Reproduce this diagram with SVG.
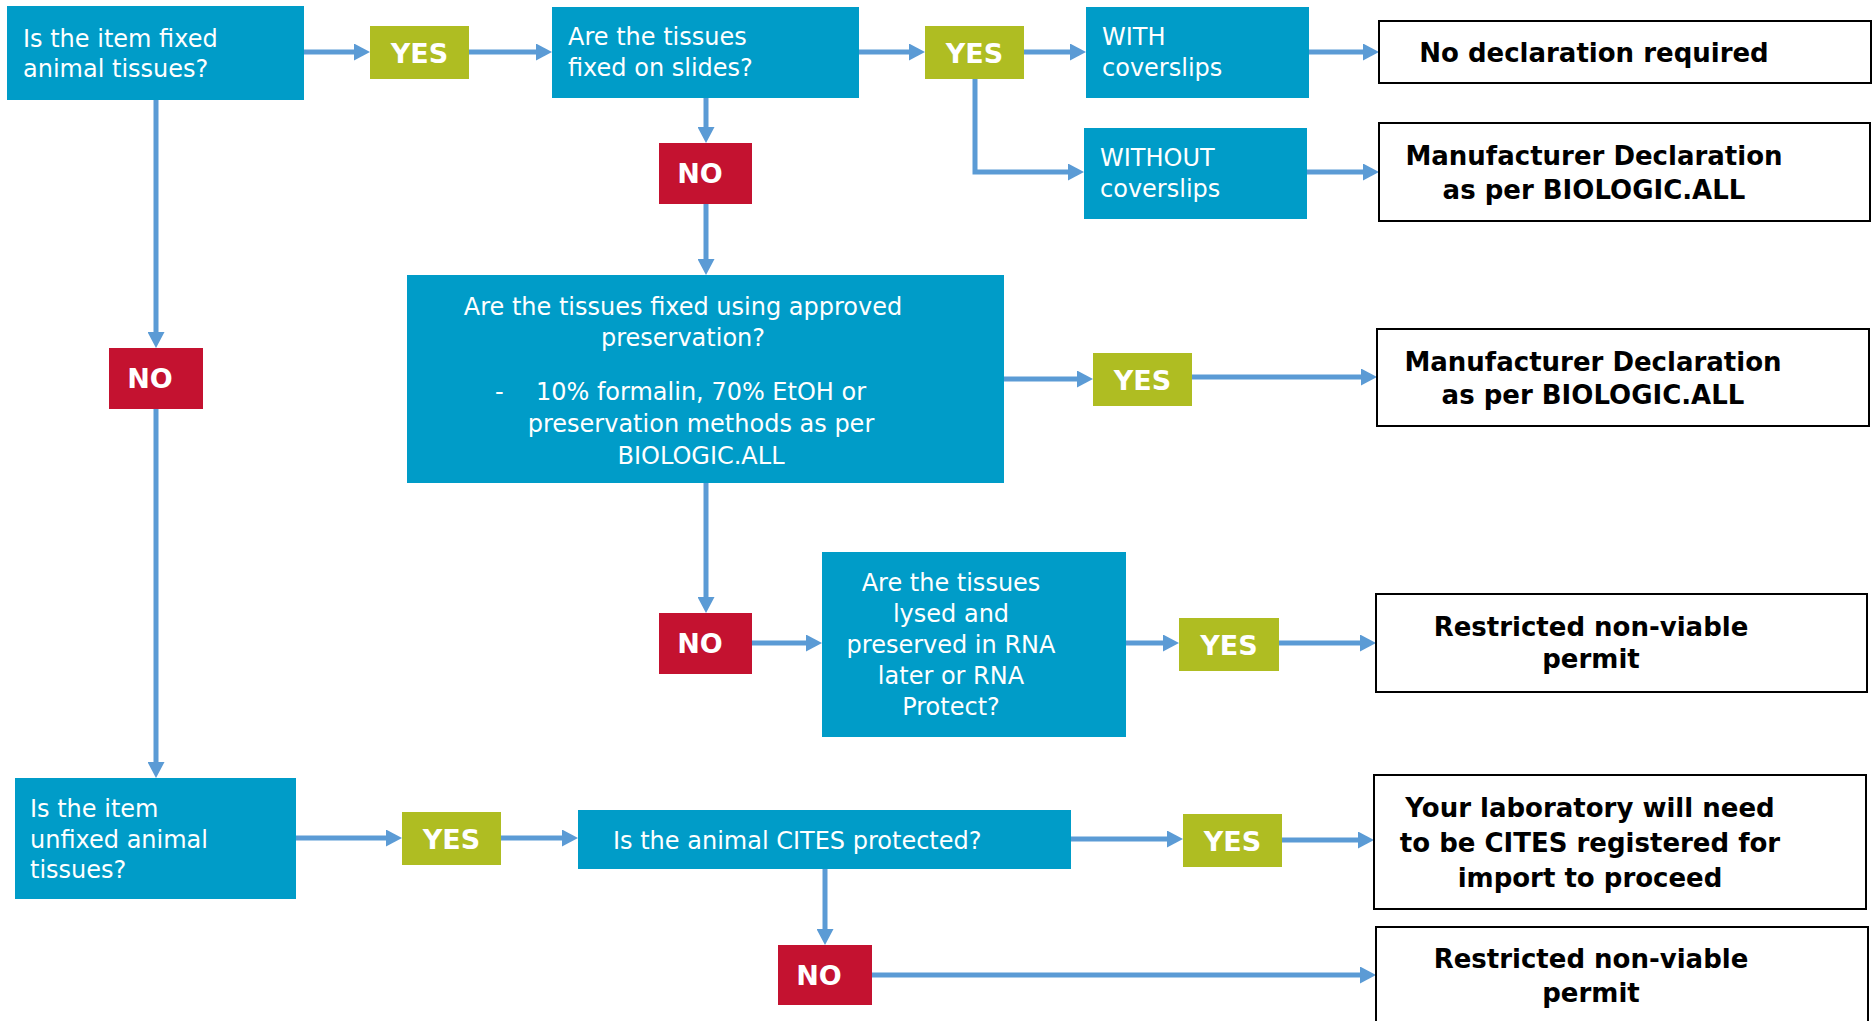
<svg xmlns="http://www.w3.org/2000/svg" width="1874" height="1021" viewBox="0 0 1874 1021">
<defs>
<marker id="ah" markerUnits="userSpaceOnUse" viewBox="0 0 16 17" refX="8" refY="8.5" markerWidth="16" markerHeight="17" orient="auto"><path d="M0,0 L16,8.5 L0,17 Z" fill="#5B9BD5"/></marker>
<style>
.q{fill:#009CC8}
.y{fill:#AFBD22}
.n{fill:#C41230}
.r{fill:#fff;stroke:#000;stroke-width:2}
.t{font-family:"DejaVu Sans",Verdana,sans-serif;font-size:24px;fill:#fff}
.c{text-anchor:middle}
.b{font-family:"DejaVu Sans",Verdana,sans-serif;font-size:27px;font-weight:bold;fill:#fff;text-anchor:middle}
.k{font-family:"DejaVu Sans",Verdana,sans-serif;font-size:26px;font-weight:bold;fill:#000;text-anchor:middle}
.e{fill:none;stroke:#5B9BD5;stroke-width:5;marker-end:url(#ah)}
</style>
</defs>
<rect width="1874" height="1021" fill="#fff"/>
<g id="connectors">
<path class="e" d="M304,52 H362"/>
<path class="e" d="M469,52 H544"/>
<path class="e" d="M859,52 H917"/>
<path class="e" d="M1024,52 H1078"/>
<path class="e" d="M1309,52 H1371"/>
<path class="e" d="M975,79 V172 H1076"/>
<path class="e" d="M1307,172 H1371"/>
<path class="e" d="M706,98 V135"/>
<path class="e" d="M706,204 V267"/>
<path class="e" d="M1004,379 H1085"/>
<path class="e" d="M1192,377 H1369"/>
<path class="e" d="M706,483 V605"/>
<path class="e" d="M752,643 H814"/>
<path class="e" d="M1126,643 H1171"/>
<path class="e" d="M1279,643 H1368"/>
<path class="e" d="M156,100 V340"/>
<path class="e" d="M156,409 V770"/>
<path class="e" d="M296,838 H394"/>
<path class="e" d="M501,838 H570"/>
<path class="e" d="M1071,839 H1175"/>
<path class="e" d="M1282,840 H1366"/>
<path class="e" d="M825,869 V937"/>
<path class="e" d="M872,975 H1368"/>
</g>
<g id="q-fixed"><rect class="q" x="7" y="6" width="297" height="94"/><text class="t" x="23" y="47">Is the item fixed</text><text class="t" x="23" y="77">animal tissues?</text></g>
<g id="yes1"><rect class="y" x="370" y="26" width="99" height="53"/><text class="b" x="419.5" y="62.5">YES</text></g>
<g id="q-slides"><rect class="q" x="552" y="7" width="307" height="91"/><text class="t" x="568" y="45">Are the tissues</text><text class="t" x="568" y="76">fixed on slides?</text></g>
<g id="yes2"><rect class="y" x="925" y="26" width="99" height="53"/><text class="b" x="974.5" y="62.5">YES</text></g>
<g id="with"><rect class="q" x="1086" y="7" width="223" height="91"/><text class="t" x="1102" y="45">WITH</text><text class="t" x="1102" y="76">coverslips</text></g>
<g id="without"><rect class="q" x="1084" y="128" width="223" height="91"/><text class="t" x="1100" y="166">WITHOUT</text><text class="t" x="1100" y="197">coverslips</text></g>
<g id="r-none"><rect class="r" x="1379" y="21" width="492" height="62"/><text class="k" x="1594" y="62">No declaration required</text></g>
<g id="r-manu1"><rect class="r" x="1379" y="123" width="491" height="98"/><text class="k" x="1594" y="165">Manufacturer Declaration</text><text class="k" x="1594" y="199">as per BIOLOGIC.ALL</text></g>
<g id="no1"><rect class="n" x="659" y="143" width="93" height="61"/><text class="b" x="700" y="183">NO</text></g>
<g id="q-approved"><rect class="q" x="407" y="275" width="597" height="208"/><text class="t c" x="683" y="315">Are the tissues fixed using approved</text><text class="t c" x="683" y="346">preservation?</text><text class="t" x="495" y="400">-</text><text class="t c" x="701" y="400">10% formalin, 70% EtOH or</text><text class="t c" x="701" y="432">preservation methods as per</text><text class="t c" x="701" y="464">BIOLOGIC.ALL</text></g>
<g id="yes3"><rect class="y" x="1093" y="353" width="99" height="53"/><text class="b" x="1142.5" y="389.5">YES</text></g>
<g id="r-manu2"><rect class="r" x="1377" y="329" width="492" height="97"/><text class="k" x="1593" y="371">Manufacturer Declaration</text><text class="k" x="1593" y="404">as per BIOLOGIC.ALL</text></g>
<g id="no2"><rect class="n" x="109" y="348" width="94" height="61"/><text class="b" x="150" y="388">NO</text></g>
<g id="no3"><rect class="n" x="659" y="613" width="93" height="61"/><text class="b" x="700" y="653">NO</text></g>
<g id="q-rna"><rect class="q" x="822" y="552" width="304" height="185"/><text class="t c" x="951" y="591">Are the tissues</text><text class="t c" x="951" y="622">lysed and</text><text class="t c" x="951" y="653">preserved in RNA</text><text class="t c" x="951" y="684">later or RNA</text><text class="t c" x="951" y="715">Protect?</text></g>
<g id="yes5"><rect class="y" x="1179" y="618" width="100" height="53"/><text class="b" x="1229" y="654.5">YES</text></g>
<g id="r-permit1"><rect class="r" x="1376" y="594" width="491" height="98"/><text class="k" x="1591" y="636">Restricted non-viable</text><text class="k" x="1591" y="668">permit</text></g>
<g id="q-unfixed"><rect class="q" x="15" y="778" width="281" height="121"/><text class="t" x="30" y="817">Is the item</text><text class="t" x="30" y="848">unfixed animal</text><text class="t" x="30" y="878">tissues?</text></g>
<g id="yes4"><rect class="y" x="402" y="812" width="99" height="53"/><text class="b" x="451.5" y="848.5">YES</text></g>
<g id="q-cites"><rect class="q" x="578" y="810" width="493" height="59"/><text class="t" x="613" y="849">Is the animal CITES protected?</text></g>
<g id="yes6"><rect class="y" x="1183" y="814" width="99" height="53"/><text class="b" x="1232.5" y="850.5">YES</text></g>
<g id="r-cites"><rect class="r" x="1374" y="775" width="492" height="134"/><text class="k" x="1590" y="817">Your laboratory will need</text><text class="k" x="1590" y="852">to be CITES registered for</text><text class="k" x="1590" y="887">import to proceed</text></g>
<g id="no4"><rect class="n" x="778" y="945" width="94" height="60"/><text class="b" x="819" y="985">NO</text></g>
<g id="r-permit2"><rect class="r" x="1376" y="927" width="492" height="110"/><text class="k" x="1591" y="968">Restricted non-viable</text><text class="k" x="1591" y="1002">permit</text></g>
</svg>
